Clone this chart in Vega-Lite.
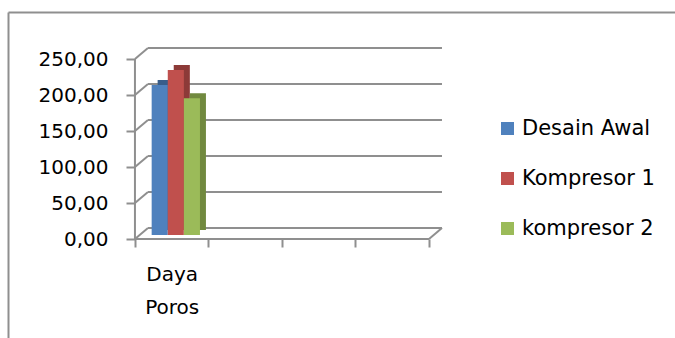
{
  "$schema": "https://vega.github.io/schema/vega-lite/v6.json",
  "width": 667,
  "height": 326,
  "autosize": {"type": "none"},
  "padding": {"left": 8, "top": 12, "right": 0, "bottom": 0},
  "background": "white",
  "config": {"view": {"stroke": null}, "font": "DejaVu Sans"},
  "datasets": {
    "bars": [
      {"kategori": "Daya Poros", "seri": "Desain Awal", "nilai": 208.3},
      {"kategori": "Daya Poros", "seri": "Kompresor 1", "nilai": 229.2},
      {"kategori": "Daya Poros", "seri": "kompresor 2", "nilai": 190.0}
    ],
    "grid": [{"v": 0}, {"v": 50}, {"v": 100}, {"v": 150}, {"v": 200}, {"v": 250}],
    "base": [{"v": 0, "top": 250}]
  },
  "resolve": {"scale": {"color": "independent", "xOffset": "independent"}, "axis": {"x": "independent", "y": "independent"}},
  "layer": [
    {
      "data": {"name": "grid"},
      "mark": {"type": "rule", "color": "#8f8f8f", "strokeWidth": 2, "xOffset": 13, "x2Offset": 13, "yOffset": -11},
      "encoding": {
        "x": {"datum": "Daya Poros", "type": "nominal", "bandPosition": 0,
          "scale": {"type": "band", "domain": ["L", "Daya Poros", "B", "C", "D", "R1", "R2", "R3"], "paddingInner": 0, "paddingOuter": 0.537, "align": 0.677},
          "axis": {"orient": "top", "offset": 0, "domain": true, "domainColor": "#8f8f8f", "domainWidth": 2, "ticks": false, "labels": false, "grid": false, "title": null}},
        "x2": {"datum": "D", "bandPosition": 1},
        "y": {"field": "v", "type": "quantitative",
          "scale": {"domain": [-137.5, 315.28], "nice": false, "zero": false},
          "axis": {"orient": "left", "offset": 0, "domain": true, "domainColor": "#8f8f8f", "domainWidth": 2, "ticks": false, "labels": false, "grid": false, "title": null}}
      }
    },
    {
      "data": {"name": "grid"},
      "mark": {"type": "rule", "color": "#8f8f8f", "strokeWidth": 2, "x2Offset": 13, "y2Offset": -11},
      "encoding": {
        "x": {"datum": "Daya Poros", "type": "nominal", "bandPosition": 0, "axis": null},
        "x2": {"datum": "Daya Poros", "bandPosition": 0},
        "y": {"field": "v", "type": "quantitative", "axis": null},
        "y2": {"field": "v"}
      }
    },
    {
      "data": {"name": "base"},
      "mark": {"type": "rule", "color": "#8f8f8f", "strokeWidth": 2, "x2Offset": 13, "y2Offset": -11},
      "encoding": {
        "x": {"datum": "D", "type": "nominal", "bandPosition": 1, "axis": null},
        "x2": {"datum": "D", "bandPosition": 1},
        "y": {"field": "v", "type": "quantitative", "axis": null},
        "y2": {"field": "v"}
      }
    },
    {
      "data": {"name": "base"},
      "mark": {"type": "rule", "color": "#8f8f8f", "strokeWidth": 2},
      "encoding": {
        "x": {"datum": "Daya Poros", "type": "nominal", "bandPosition": 0, "axis": null},
        "x2": {"datum": "D", "bandPosition": 1},
        "y": {"field": "v", "type": "quantitative", "axis": null}
      }
    },
    {
      "data": {"name": "base"},
      "mark": {"type": "rule", "color": "#8f8f8f", "strokeWidth": 2},
      "encoding": {
        "x": {"datum": "Daya Poros", "type": "nominal", "bandPosition": 0, "axis": null},
        "y": {"field": "v", "type": "quantitative", "axis": null},
        "y2": {"field": "top"}
      }
    },
    {
      "data": {"name": "bars"},
      "mark": {"type": "bar", "yOffset": -9, "y2Offset": -9},
      "encoding": {
        "x": {"field": "kategori", "type": "nominal", "axis": null},
        "xOffset": {"field": "seri", "type": "nominal",
          "scale": {"type": "band", "domain": ["Desain Awal", "Kompresor 1", "kompresor 2"], "paddingInner": 0, "paddingOuter": 0.7826, "align": 0.9}},
        "y": {"field": "nilai", "type": "quantitative", "axis": null},
        "color": {"field": "seri", "type": "nominal",
          "scale": {"domain": ["Desain Awal", "Kompresor 1", "kompresor 2"], "range": ["#385D8A", "#8C3A38", "#71893F"]},
          "legend": null}
      }
    },
    {
      "data": {"name": "bars"},
      "mark": {"type": "bar", "yOffset": -4, "y2Offset": -4},
      "encoding": {
        "x": {"field": "kategori", "type": "nominal",
          "axis": {"orient": "bottom", "offset": -99, "values": ["Daya Poros", "B", "C", "D"], "domain": false, "ticks": true, "tickBand": "extent", "tickSize": 8, "tickColor": "#8f8f8f", "tickWidth": 2,
            "labelExpr": "datum.value == 'Daya Poros' ? ['Daya', 'Poros'] : ''", "labelFontSize": 20, "labelLineHeight": 33, "labelPadding": 17, "labelColor": "#000000", "labelAngle": 0, "title": null, "grid": false}},
        "xOffset": {"field": "seri", "type": "nominal",
          "scale": {"type": "band", "domain": ["Desain Awal", "Kompresor 1", "kompresor 2"], "paddingInner": 0, "paddingOuter": 0.7826, "align": 0.663}},
        "y": {"field": "nilai", "type": "quantitative",
          "axis": {"orient": "left", "offset": -127, "values": [0, 50, 100, 150, 200, 250], "domain": false, "tickSize": 9, "tickColor": "#8f8f8f", "tickWidth": 2,
            "labelFontSize": 20, "labelPadding": 18, "labelColor": "#000000", "labelExpr": "replace(format(datum.value, '.2f'), '.', ',')", "grid": false, "title": null}},
        "color": {"field": "seri", "type": "nominal",
          "scale": {"domain": ["Desain Awal", "Kompresor 1", "kompresor 2"], "range": ["#4F81BD", "#C0504D", "#9BBB59"]},
          "legend": {"orient": "none", "legendX": 489, "legendY": 106, "title": null, "symbolType": "square", "symbolSize": 169, "symbolStrokeWidth": 0,
            "labelFontSize": 21, "labelColor": "#000000", "rowPadding": 28, "labelOffset": 4}}
      }
    }
  ]
}
